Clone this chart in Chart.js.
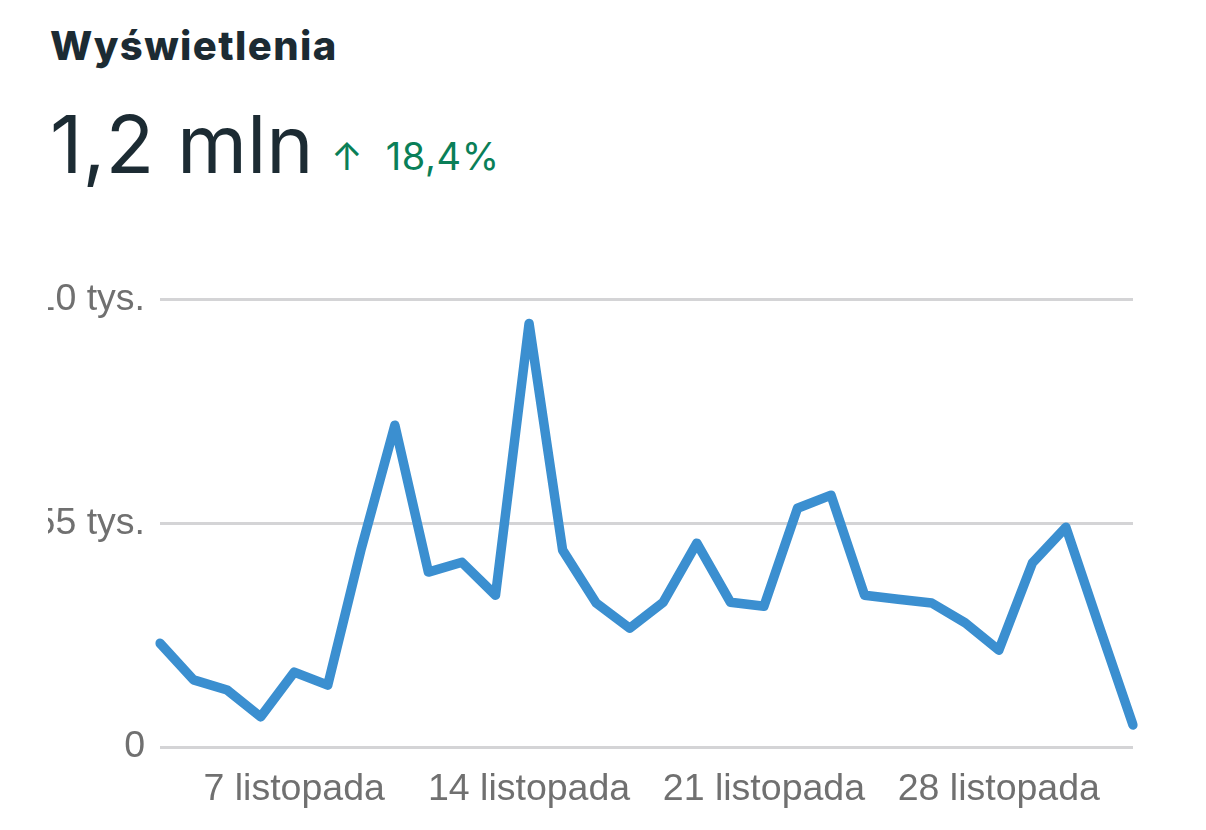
<!DOCTYPE html>
<html lang="pl">
<head>
    <meta charset="UTF-8">
    <title>Wyświetlenia</title>
    <style>
        body {
            margin: 0;
            background: #fff;
            width: 1206px;
            height: 830px;
            position: relative;
            overflow: hidden;
            font-family: Inter, "Noto Sans", sans-serif;
        }
        .title {
            position: absolute;
            left: 50px;
            top: 26px;
            font-size: 40px;
            line-height: 1;
            font-weight: 800;
            letter-spacing: 1.4px;
            color: #1c2b33;
        }
        .total {
            position: absolute;
            left: 50px;
            top: 104px;
            font-size: 80px;
            line-height: 1;
            font-weight: 400;
            color: #1c2b33;
        }
        .change {
            position: absolute;
            left: 331px;
            top: 137px;
            font-size: 38px;
            line-height: 1;
            color: #0a7f58;
        }
        .change .num { margin-left: 23px; letter-spacing: 0.6px; }
        .chart-box {
            position: absolute;
            left: 48px;
            top: 262px;
            width: 1100px;
            height: 568px;
        }
    </style>
</head>
<body>
    <div class="title">Wyświetlenia</div>
    <div class="total">1,2 mln</div>
    <div class="change">↑<span class="num">18,4%</span></div>

    <div class="chart-box"><canvas id="viewsChart"></canvas></div>

    <script src="https://cdn.jsdelivr.net/npm/chart.js"></script>
    <script>
    // days shown on the x axis (3 Nov - 2 Dec)
    var days = ['3 listopada', '4 listopada', '5 listopada', '6 listopada', '7 listopada',
        '8 listopada', '9 listopada', '10 listopada', '11 listopada', '12 listopada',
        '13 listopada', '14 listopada', '15 listopada', '16 listopada', '17 listopada',
        '18 listopada', '19 listopada', '20 listopada', '21 listopada', '22 listopada',
        '23 listopada', '24 listopada', '25 listopada', '26 listopada', '27 listopada',
        '28 listopada', '29 listopada', '30 listopada', '1 grudnia', '2 grudnia'];

    // daily views, in thousands
    var views = [25.5, 16.5, 14.0, 7.4, 18.4, 15.2, 48.8, 79.1, 43.0, 45.4,
        37.3, 104.1, 48.4, 35.4, 29.2, 35.6, 50.1, 35.6, 34.6, 58.7,
        61.9, 37.3, 36.3, 35.4, 30.5, 23.8, 45.2, 54.0, 29.5, 5.4];

    var shownDays = ['7 listopada', '14 listopada', '21 listopada', '28 listopada'];
    var yTicks = [0, 55, 110];

    var tickFont = { family: '"Liberation Sans", Arial, sans-serif', size: 37.5 };

    var ctx = document.getElementById('viewsChart').getContext('2d');
    new Chart(ctx, {
        type: 'line',
        data: {
            labels: days,
            datasets: [{
                data: views,
                borderColor: '#3b8fd0',
                borderWidth: 9.5,
                borderJoinStyle: 'round',
                borderCapStyle: 'round',
                pointRadius: 0,
                tension: 0,
                fill: false
            }]
        },
        options: {
            responsive: true,
            maintainAspectRatio: false,
            animation: false,
            layout: { padding: { top: 29, right: 15, bottom: 0, left: 0 } },
            plugins: { legend: { display: false }, tooltip: { enabled: false } },
            scales: {
                x: {
                    grid: { display: false },
                    border: { display: false },
                    afterFit: function (scale) { scale.height = 83; },
                    ticks: {
                        autoSkip: false,
                        maxRotation: 0,
                        padding: 12,
                        color: '#707070',
                        font: tickFont,
                        callback: function (value) {
                            var l = this.getLabelForValue(value);
                            return shownDays.indexOf(l) >= 0 ? l : '';
                        }
                    }
                },
                y: {
                    min: yTicks[0],
                    max: yTicks[yTicks.length - 1],
                    grid: { color: '#d4d4d6', lineWidth: 3, drawTicks: false },
                    border: { display: false },
                    afterFit: function (scale) { scale.width = 112; },
                    afterBuildTicks: function (scale) {
                        scale.ticks = yTicks.map(function (v) { return { value: v }; });
                    },
                    ticks: {
                        padding: 15,
                        color: '#707070',
                        font: tickFont,
                        callback: function (value) {
                            return value === 0 ? '0' : value + ' tys.';
                        }
                    }
                }
            }
        }
    });
    </script>
</body>
</html>
